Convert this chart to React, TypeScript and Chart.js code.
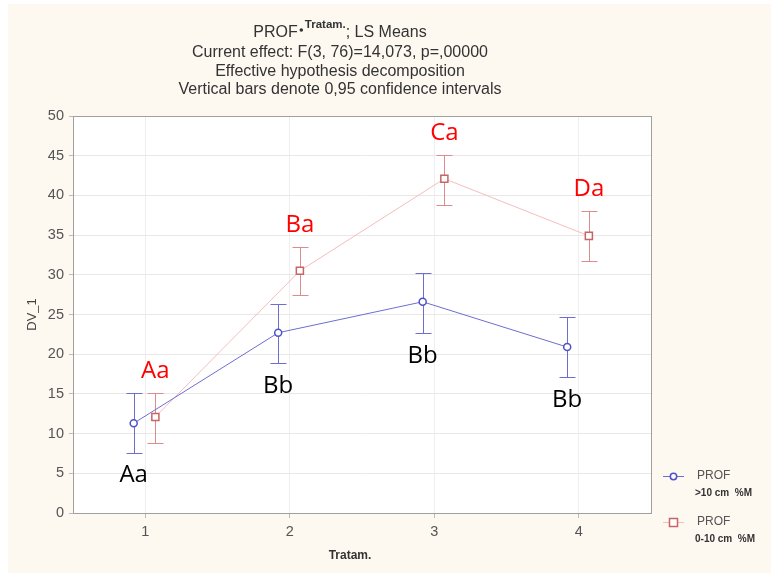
import React, { useEffect, useRef } from "react";
import { Chart, registerables } from "chart.js";

Chart.register(...registerables);

const categories = [1, 2, 3, 4];
const tickLabels = ["1", "2", "3", "4"];

const deepMeans = [11.3, 22.7, 26.6, 20.9];
const deepLower = [7.6, 18.9, 22.7, 17.1];
const deepUpper = [15.1, 26.3, 30.2, 24.7];
const deepLetters = ["Aa", "Bb", "Bb", "Bb"];

const shallowMeans = [12.1, 30.5, 42.1, 34.9];
const shallowLower = [8.8, 27.5, 38.8, 31.7];
const shallowUpper = [15.1, 33.5, 45.1, 38.0];
const shallowLetters = ["Aa", "Ba", "Ca", "Da"];

const yTicks = [0, 5, 10, 15, 20, 25, 30, 35, 40, 45, 50];

const titleLines = [
  "Current effect: F(3, 76)=14,073, p=,00000",
  "Effective hypothesis decomposition",
  "Vertical bars denote 0,95 confidence intervals",
];

const DEEP_OFFSET = -0.08;
const SHALLOW_OFFSET = 0.07;

const BLUE_LINE = "rgb(110,110,210)";
const BLUE_MARK = "rgb(80,80,200)";
const RED_LINE = "rgb(245,190,190)";
const RED_ERR = "rgb(220,140,140)";
const RED_MARK = "rgb(200,100,100)";

export default function App() {
  const ref = useRef<HTMLCanvasElement | null>(null);

  useEffect(() => {
    document.body.style.margin = "0";
    const canvas = ref.current;
    if (!canvas) return;

    const deepPts = categories.map((c, i) => ({ x: c + DEEP_OFFSET, y: deepMeans[i] }));
    const shallowPts = categories.map((c, i) => ({ x: c + SHALLOW_OFFSET, y: shallowMeans[i] }));

    const bgPlugin = {
      id: "bg",
      beforeDraw(chart: any) {
        const { ctx, chartArea, width, height } = chart;
        ctx.save();
        ctx.fillStyle = "#ffffff";
        ctx.fillRect(0, 0, width, height);
        ctx.fillStyle = "#fdf8f0";
        ctx.fillRect(8, 4, width - 12, height - 8);
        ctx.fillStyle = "#ffffff";
        ctx.fillRect(chartArea.left, chartArea.top, chartArea.right - chartArea.left, chartArea.bottom - chartArea.top);
        ctx.restore();
      },
    };

    const errPlugin = {
      id: "errbars",
      beforeDatasetsDraw(chart: any) {
        const { ctx, scales } = chart;
        const xs = scales.x;
        const ys = scales.y;
        const drawSet = (off: number, lo: number[], hi: number[], color: string) => {
          ctx.save();
          ctx.strokeStyle = color;
          ctx.lineWidth = 1;
          categories.forEach((c, i) => {
            const px = Math.round(xs.getPixelForValue(c + off)) + 0.5;
            const yl = Math.round(ys.getPixelForValue(lo[i])) + 0.5;
            const yh = Math.round(ys.getPixelForValue(hi[i])) + 0.5;
            ctx.beginPath();
            ctx.moveTo(px, yl);
            ctx.lineTo(px, yh);
            ctx.moveTo(px - 8, yl);
            ctx.lineTo(px + 8, yl);
            ctx.moveTo(px - 8, yh);
            ctx.lineTo(px + 8, yh);
            ctx.stroke();
          });
          ctx.restore();
        };
        drawSet(SHALLOW_OFFSET, shallowLower, shallowUpper, RED_ERR);
        drawSet(DEEP_OFFSET, deepLower, deepUpper, BLUE_LINE);
      },
    };

    const textPlugin = {
      id: "texts",
      afterDraw(chart: any) {
        const { ctx, scales, chartArea } = chart;
        const xs = scales.x;
        const ys = scales.y;
        ctx.save();
        // frame
        ctx.strokeStyle = "#a0a0a0";
        ctx.lineWidth = 1;
        ctx.strokeRect(
          Math.round(chartArea.left) + 0.5,
          Math.round(chartArea.top) + 0.5,
          Math.round(chartArea.right - chartArea.left),
          Math.round(chartArea.bottom - chartArea.top)
        );

        // letters
        ctx.font = '24px "Open Sans"';
        ctx.textAlign = "center";
        ctx.textBaseline = "middle";
        categories.forEach((c, i) => {
          ctx.fillStyle = "#000000";
          ctx.fillText(
            deepLetters[i],
            xs.getPixelForValue(c + DEEP_OFFSET),
            ys.getPixelForValue(deepLower[i]) + 23
          );
          ctx.fillStyle = "#ff0000";
          ctx.fillText(
            shallowLetters[i],
            xs.getPixelForValue(c + SHALLOW_OFFSET),
            ys.getPixelForValue(shallowUpper[i]) - 22
          );
        });

        const cx = (chartArea.left + chartArea.right) / 2;
        const tcx = cx - 22;

        // title
        ctx.fillStyle = "#333333";
        ctx.textBaseline = "middle";
        const f1 = '16px "Liberation Sans"';
        const fs = 'bold 11.5px "Liberation Sans"';
        const partA = "PROF";
        const partB = "Tratam.";
        const partC = "; LS Means";
        ctx.font = f1;
        const wA = ctx.measureText(partA).width;
        const wC = ctx.measureText(partC).width;
        const wDot = 7;
        ctx.font = fs;
        const wB = ctx.measureText(partB).width;
        const total = wA + wDot + wB + wC;
        let x0 = tcx - total / 2;
        const y1 = 33;
        ctx.textAlign = "left";
        ctx.font = f1;
        ctx.fillText(partA, x0, y1);
        x0 += wA;
        ctx.beginPath();
        ctx.arc(x0 + 3.5, y1 - 3, 1.8, 0, Math.PI * 2);
        ctx.fill();
        x0 += wDot;
        ctx.font = fs;
        ctx.fillText(partB, x0, y1 - 8);
        x0 += wB;
        ctx.font = f1;
        ctx.fillText(partC, x0, y1);

        ctx.textAlign = "center";
        titleLines.forEach((t, i) => {
          ctx.fillText(t, tcx, 53 + i * 18.5);
        });

        // axis titles
        ctx.fillStyle = "#444444";
        ctx.font = '13px "Liberation Sans"';
        ctx.save();
        ctx.translate(32, (chartArea.top + chartArea.bottom) / 2);
        ctx.rotate(-Math.PI / 2);
        ctx.fillText("DV_1", 0, 0);
        ctx.restore();
        ctx.fillStyle = "#333333";
        ctx.font = 'bold 12px "Liberation Sans"';
        ctx.fillText("Tratam.", cx - 12, 556);

        // legend
        const lx = 663;
        const items = [
          { y: 476, sub: ">10 cm  %M", line: BLUE_LINE, mark: BLUE_MARK, circle: true },
          { y: 522, sub: "0-10 cm  %M", line: RED_LINE, mark: RED_MARK, circle: false },
        ];
        items.forEach((it) => {
          ctx.strokeStyle = it.line;
          ctx.lineWidth = 1;
          ctx.beginPath();
          ctx.moveTo(lx, it.y + 0.5);
          ctx.lineTo(lx + 21, it.y + 0.5);
          ctx.stroke();
          ctx.fillStyle = "#ffffff";
          ctx.strokeStyle = it.mark;
          ctx.lineWidth = 1.5;
          if (it.circle) {
            ctx.beginPath();
            ctx.arc(lx + 10.5, it.y + 0.5, 3.2, 0, Math.PI * 2);
            ctx.fill();
            ctx.stroke();
          } else {
            ctx.fillRect(lx + 6.5, it.y - 3.5, 8, 8);
            ctx.strokeRect(lx + 6.5, it.y - 3.5, 8, 8);
          }
          ctx.textAlign = "left";
          ctx.fillStyle = "#555555";
          ctx.font = '12px "Liberation Sans"';
          ctx.fillText("PROF", 697, it.y);
          ctx.fillStyle = "#333333";
          ctx.font = 'bold 10px "Liberation Sans"';
          ctx.fillText(it.sub, 695, it.y + 17);
        });
        ctx.restore();
      },
    };

    const chart = new Chart(canvas, {
      type: "line",
      data: {
        datasets: [
          {
            label: "PROF >10 cm %M",
            data: deepPts,
            borderColor: BLUE_LINE,
            borderWidth: 1,
            pointStyle: "circle",
            pointRadius: 3.5,
            pointBorderWidth: 1.5,
            pointBorderColor: BLUE_MARK,
            pointBackgroundColor: "#ffffff",
            tension: 0,
          },
          {
            label: "PROF 0-10 cm %M",
            data: shallowPts,
            borderColor: RED_LINE,
            borderWidth: 1,
            pointStyle: "rect",
            pointRadius: 5,
            pointBorderWidth: 1.5,
            pointBorderColor: RED_MARK,
            pointBackgroundColor: "#ffffff",
            tension: 0,
          },
        ],
      },
      options: {
        responsive: false,
        animation: false,
        events: [],
        layout: { padding: { left: 0, right: 124, top: 116, bottom: 0 } },
        plugins: {
          legend: { display: false },
          title: { display: false },
          tooltip: { enabled: false },
        },
        scales: {
          x: {
            type: "linear",
            min: 0.5,
            max: 4.5,
            afterBuildTicks(scale: any) {
              scale.ticks = categories.map((v) => ({ value: v }));
            },
            afterFit(scale: any) {
              scale.height = 64;
            },
            ticks: {
              callback: (v: any) => {
                const idx = categories.indexOf(Number(v));
                return idx >= 0 ? tickLabels[idx] : "";
              },
              color: "#555555",
              font: { family: "Liberation Sans", size: 14.5 },
              padding: 5,
              maxRotation: 0,
            },
            grid: { color: "#eeeeee", tickLength: 5, tickColor: "#bbbbbb" },
            border: { color: "#999999" },
          },
          y: {
            type: "linear",
            min: 0,
            max: 50,
            afterBuildTicks(scale: any) {
              scale.ticks = yTicks.map((v) => ({ value: v }));
            },
            afterFit(scale: any) {
              scale.width = 73;
            },
            ticks: {
              color: "#555555",
              font: { family: "Liberation Sans", size: 14.5 },
              padding: 5,
            },
            grid: { color: "#e8e8e8", tickLength: 4, tickColor: "#bbbbbb" },
            border: { color: "#999999" },
          },
        },
      },
      plugins: [bgPlugin, errPlugin, textPlugin],
    });

    return () => chart.destroy();
  }, []);

  return (
    <div style={{ width: 775, height: 577 }}>
      <canvas ref={ref} width={775} height={577} style={{ display: "block" }} />
    </div>
  );
}
